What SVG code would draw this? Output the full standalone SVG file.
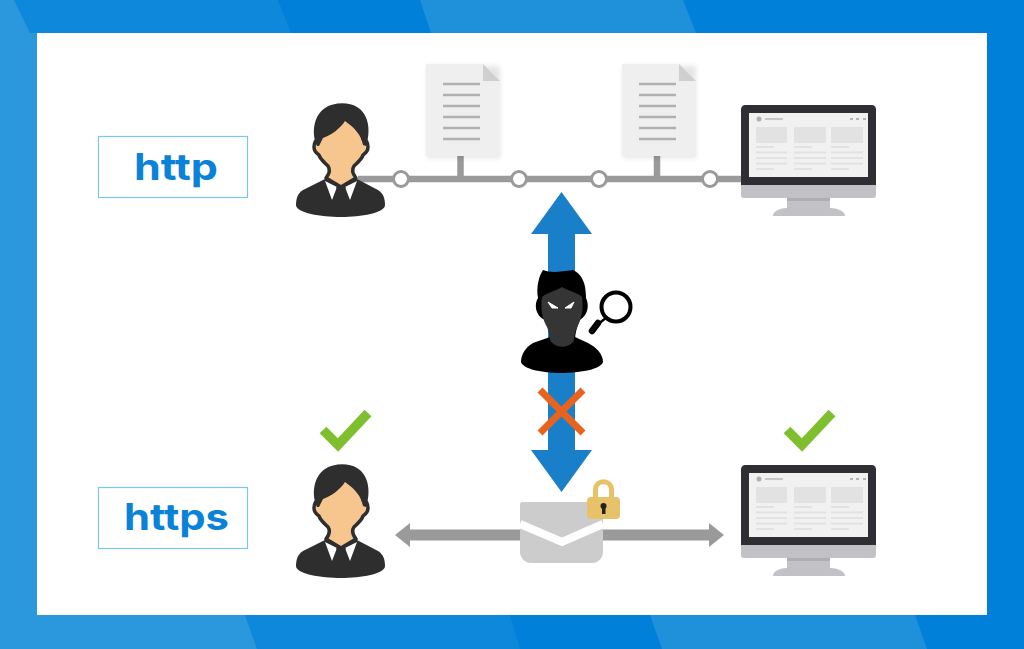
<svg xmlns="http://www.w3.org/2000/svg" width="1024" height="649" viewBox="0 0 1024 649">
<style>
.line{stroke:#9a9a9a;fill:none}
.node{fill:#fff;stroke:#9a9a9a;stroke-width:3}
.lab{font-family:Inter,"Open Sans",sans-serif;font-weight:700;font-size:37px;fill:#0a82d8;text-anchor:middle}
.box{fill:#fff;stroke:#7cc6ee;stroke-width:1.2}
.check{fill:none;stroke:#7fbf2f;stroke-width:9.500}
</style>
<defs>
<filter id="soft" x="-15%" y="-15%" width="130%" height="130%"><feGaussianBlur stdDeviation="2.500"/></filter>
<filter id="fine" x="-5%" y="-5%" width="110%" height="110%"><feGaussianBlur stdDeviation="0.500"/></filter>
<g id="user">
<path d="M-14 75L-38 87C-43 90-45 95-45 102C-45 110-20 114 0 114C20 114 44 110 44 102C44 95 42 90 37 87L14 75Z" fill="#2e2e2e"/>
<path d="M-14 16H14L22 30V36C25 36 27 40 27 44C27 48 25 50 22 52C21 56 16 60 13 63C11 66 11 70 15 75L0 84L-15 75C-11 70-11 66-13 63C-16 60-21 56-22 52C-25 50-27 48-27 44C-27 40-25 36-22 36V30Z" fill="#f7c68f" stroke="#2e2e2e" stroke-width="3.500" stroke-linejoin="round"/>
<path d="M-24 43C-29 33-29 14-16 5C-7-1 8-1 16 4C28 11 30 28 25 43L22 42C20 32 14 25 4 18C-1 26-10 32-18 35L-22 43Z" fill="#2e2e2e"/>
<path d="M-16 78L-4 84L-9 97ZM16 78L4 84L9 97Z" fill="#fff"/>
<path d="M-5 84H5L2 90L5 95L0 100L-5 95L-2 90Z" fill="#2e2e2e"/>
</g>
<g id="doc">
<rect x="1" y="2" width="73" height="92" fill="#000" opacity=".1" filter="url(#soft)"/>
<path d="M0 0H57L74 17V92H0Z" fill="#efefef"/>
<path d="M57 0L74 17H57Z" fill="#cfcfcf"/>
<path d="M17 20H54M17 31H54M17 42H54M17 53H54M17 64H54M17 75H54" stroke="#b0b0b0" stroke-width="2.600"/>
</g>
<g id="monitor">
<path d="M0 80H135V90C135 92 134 93 132 93H3C1 93 0 92 0 90Z" fill="#c2c1c5"/>
<path d="M46 93H89V103H46Z" fill="#c2c1c5"/>
<path d="M46 93H89V96H46Z" fill="#aeadb1"/>
<path d="M46 103H89C96 103 104 106 104 111H32C32 106 39 103 46 103Z" fill="#c2c1c5"/>
<path d="M4 0H131C133 0 135 2 135 4V80H0V4C0 2 2 0 4 0Z" fill="#2f2e33"/>
<rect x="8" y="8" width="119" height="64" fill="#f1f1f1"/>
<g filter="url(#fine)">
<circle cx="18" cy="14" r="2.500" fill="#b0b0b0"/>
<path d="M24 14H42" stroke="#b5b5b5" stroke-width="1.400"/>
<path d="M109 14H112M115 14H118M122 14H125" stroke="#b5b5b5" stroke-width="2"/>
<g fill="#e2e2e2"><rect x="15" y="22" width="31" height="16"/><rect x="53" y="22" width="32" height="16"/><rect x="90" y="22" width="32" height="16"/></g>
<path d="M15 42H33M53 42H71M90 42H108M15 47.500H46M53 47.500H85M90 47.500H122M15 53H46M53 53H85M90 53H122M15 58.500H46M53 58.500H85M90 58.500H122M15 64H33M53 64H71M90 64H108" stroke="#e2e2e2" stroke-width="2"/>
</g>
</g>
</defs>
<g id="background">
<rect width="1024" height="649" fill="#0080d8"/>
<path d="M14 0H278L291 33H30Z" fill="#0e88da"/>
<path d="M245 615H510L520 649H257Z" fill="#0e88da"/>
<path d="M420 0H683L696 33H431Z" fill="#1f90da"/>
<path d="M650 615H915L927 649H662Z" fill="#1f90da"/>
<path d="M0 0H14L30 33H37V615H245L257 649H0Z" fill="#2b98de"/>
<rect x="37" y="33" width="950" height="582" fill="#fff"/>
</g>
<g id="connectors">
<path class="line" stroke-width="6.500" d="M358 179H742M460.500 155V179M657 155V179"/>
<path d="M561.500 192L592 234H575V450H592L561.500 492L531 450H548V234H531Z" fill="#1a7fc9"/>
<path d="M395 535L410 523V529.500H520V540.500H410V547ZM724 535L709 523V529.500H603V540.500H709V547Z" fill="#9a9a9a"/>
<circle class="node" cx="401" cy="179" r="7.500"/>
<circle class="node" cx="519" cy="179" r="7.500"/>
<circle class="node" cx="599" cy="179" r="7.500"/>
<circle class="node" cx="710" cy="179" r="7.500"/>
</g>
<g id="label-http"><rect class="box" x="98.500" y="136.500" width="149" height="61"/><text class="lab" x="176" y="180" textLength="84" lengthAdjust="spacingAndGlyphs">http</text></g>
<g id="label-https"><rect class="box" x="98.500" y="487.500" width="149" height="61"/><text class="lab" x="176.500" y="530" textLength="105" lengthAdjust="spacingAndGlyphs">https</text></g>
<g id="user-top"><use href="#user" x="341" y="103"/></g>
<g id="user-bottom"><use href="#user" x="341" y="464"/></g>
<g id="doc-1"><use href="#doc" x="426" y="64"/></g>
<g id="doc-2"><use href="#doc" x="622" y="64"/></g>
<g id="server-top"><use href="#monitor" x="741" y="105"/></g>
<g id="server-bottom"><use href="#monitor" x="741" y="465"/></g>
<g id="attacker">
<path d="M550 337L533 343C526 347 521 354 521 362C523 369 542 373 561 373C581 373 601 369 603 362C603 354 596 347 588 343L575 337Z" fill="#000"/>
<path d="M543 270C550 273 560 272 573 270C582 274 586 283 586 298C589 304 589 314 580 320C577 327 575 333 575 340H550C550 333 548 326 545 320C535 316 534 304 538 298C536 287 539 276 543 270Z" fill="#000"/>
<path d="M562 287C568 291 577 292 582 297C584 310 581 320 577 327C575 332 574 336 574 340C570 349 555 349 550 340C550 336 549 332 547 327C543 320 540 310 542 297C548 292 556 291 562 287Z" fill="#353535"/>
<path d="M548 302L558 308H552ZM574 302L565 308H571Z" fill="#fff" stroke="#fff" stroke-width="1"/>
<circle cx="616" cy="307" r="14.500" fill="#fff" stroke="#000" stroke-width="4"/>
<path d="M606 318L598 324" stroke="#000" stroke-width="2.500"/>
<path d="M598 323L592 331" stroke="#000" stroke-width="6.500" stroke-linecap="round"/>
</g>
<g id="cross"><path d="M540 390L583 433M583 390L540 433" stroke="#e8641e" stroke-width="7" fill="none"/></g>
<g id="envelope">
<path d="M522 502H601C602 502 603 503 603 504V552C603 558 598 563 592 563H531C525 563 520 558 520 552V504C520 503 521 502 522 502Z" fill="#cccccc"/>
<path d="M520 524L562 542L603 524" fill="none" stroke="#fff" stroke-width="8"/>
</g>
<g id="lock">
<path d="M595.500 498V490C595.500 479 611.500 479 611.500 490V498" fill="none" stroke="#e8c268" stroke-width="5"/>
<rect x="587" y="497" width="33" height="22" rx="4" fill="#e8c268"/>
<circle cx="603.500" cy="506" r="3" fill="#222"/>
<rect x="602" y="506" width="3.500" height="8" fill="#222"/>
</g>
<g id="check-1"><path class="check" d="M323 430L338 445L368 413"/></g>
<g id="check-2"><path class="check" d="M787 430L802 445L832 413"/></g>
</svg>
